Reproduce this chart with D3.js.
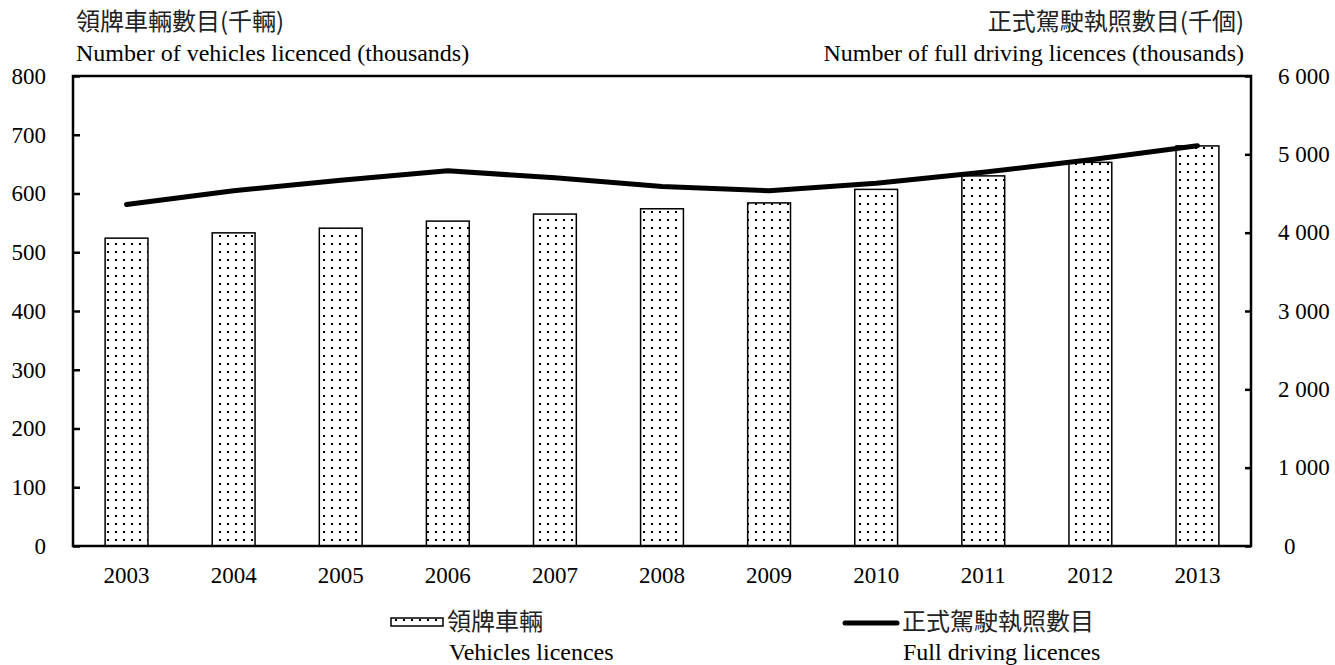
<!DOCTYPE html>
<html>
<head>
<meta charset="utf-8">
<script src="https://cdn.jsdelivr.net/npm/d3@7"></script>
<style>
  html, body { margin: 0; padding: 0; background: #fff; }
  svg { display: block; }
</style>
</head>
<body>
<svg id="chart" width="1335" height="665"></svg>
<script>
const years = ["2003","2004","2005","2006","2007","2008","2009","2010","2011","2012","2013"];
const vehicles = [524, 533, 541, 553, 565, 574, 584, 607, 630, 653, 681];
const licences = [4360, 4535, 4670, 4790, 4700, 4590, 4535, 4630, 4770, 4930, 5110];
const leftTicks = [0, 100, 200, 300, 400, 500, 600, 700, 800];
const rightTicks = [0, 1000, 2000, 3000, 4000, 5000, 6000];
const leftTitleZh = "領牌車輛數目(千輛)";
const leftTitleEn = "Number of vehicles licenced (thousands)";
const rightTitleZh = "正式駕駛執照數目(千個)";
const rightTitleEn = "Number of full driving licences (thousands)";
const legendZh = ["領牌車輛", "正式駕駛執照數目"];
const legendEn = ["Vehicles licences", "Full driving licences"];

const serif = "'Liberation Serif', 'Times New Roman', serif";
const cjk = "'Noto Sans CJK TC', 'Noto Sans CJK SC', sans-serif";

const svg = d3.select("#chart");
const L = 73, R = 1251, T = 76, B = 546;

const defs = svg.append("defs");
const pat = defs.append("pattern").attr("id", "dots").attr("patternUnits", "userSpaceOnUse")
  .attr("width", 8).attr("height", 8);
pat.append("rect").attr("width", 8).attr("height", 8).attr("fill", "#fff");
pat.append("rect").attr("x", 3).attr("y", 3).attr("width", 2).attr("height", 2).attr("fill", "#000");

const x = d3.scaleBand().domain(years).range([L, R]).paddingInner(0.6).paddingOuter(0.3);
const yL = d3.scaleLinear().domain([0, 800]).range([B, T]);
const yR = d3.scaleLinear().domain([0, 6000]).range([B, T]);

// bars
svg.append("g").selectAll("rect").data(vehicles).join("rect")
  .attr("x", (d, i) => x(years[i]))
  .attr("y", d => yL(d))
  .attr("width", x.bandwidth())
  .attr("height", d => B - yL(d))
  .attr("fill", "url(#dots)")
  .attr("stroke", "#000")
  .attr("stroke-width", 1.5);

// line
const line = d3.line().x((d, i) => x(years[i]) + x.bandwidth() / 2).y(d => yR(d));
svg.append("path").datum(licences).attr("d", line)
  .attr("fill", "none").attr("stroke", "#000").attr("stroke-width", 5)
  .attr("stroke-linecap", "round").attr("stroke-linejoin", "round");

// axes
const axL = svg.append("g").attr("transform", `translate(${L},0)`)
  .call(d3.axisRight(yL).tickValues(leftTicks).tickSize(7).tickFormat(""));
const axR = svg.append("g").attr("transform", `translate(${R},0)`)
  .call(d3.axisLeft(yR).tickValues(rightTicks).tickSize(6).tickFormat(""));
[axL, axR].forEach(a => {
  a.selectAll("line").attr("stroke", "#000").attr("stroke-width", 2.5);
  a.select(".domain").remove();
});

// frame
svg.append("rect").attr("x", L).attr("y", T).attr("width", R - L).attr("height", B - T)
  .attr("fill", "none").attr("stroke", "#000").attr("stroke-width", 2.5);

// tick labels
svg.append("g").selectAll("text").data(leftTicks).join("text")
  .attr("x", 46).attr("y", d => yL(d)).attr("dy", "0.34em")
  .attr("text-anchor", "end").attr("font-family", serif).attr("font-size", 23)
  .text(d => d);

const fmtR = d => d === 0 ? "0" : d3.format(",")(d).replace(",", " ");
svg.append("g").selectAll("text").data(rightTicks).join("text")
  .attr("x", d => d === 0 ? 1284 : 1278).attr("y", d => yR(d)).attr("dy", "0.34em")
  .attr("text-anchor", "start").attr("font-family", serif).attr("font-size", 23)
  .text(fmtR);

svg.append("g").selectAll("text").data(years).join("text")
  .attr("x", d => x(d) + x.bandwidth() / 2).attr("y", 583)
  .attr("text-anchor", "middle").attr("font-family", serif).attr("font-size", 23)
  .text(d => d);

// titles
svg.append("text").attr("x", 76).attr("y", 30).attr("font-family", cjk).attr("font-size", 24)
  .attr("fill", "#222").text(leftTitleZh);
svg.append("text").attr("x", 76).attr("y", 61).attr("font-family", serif).attr("font-size", 24)
  .text(leftTitleEn);
svg.append("text").attr("x", 1244).attr("y", 30).attr("text-anchor", "end").attr("font-family", cjk)
  .attr("font-size", 24).attr("fill", "#222").text(rightTitleZh);
svg.append("text").attr("x", 1244).attr("y", 61).attr("text-anchor", "end").attr("font-family", serif)
  .attr("font-size", 24).text(rightTitleEn);

// legend
svg.append("rect").attr("x", 391).attr("y", 618).attr("width", 52).attr("height", 8)
  .attr("fill", "url(#dots)").attr("stroke", "#000").attr("stroke-width", 1.5);
svg.append("text").attr("x", 447).attr("y", 630).attr("font-family", cjk).attr("font-size", 24)
  .attr("fill", "#222").text(legendZh[0]);
svg.append("text").attr("x", 449).attr("y", 660).attr("font-family", serif).attr("font-size", 24)
  .text(legendEn[0]);

svg.append("line").attr("x1", 845).attr("x2", 897).attr("y1", 623).attr("y2", 623)
  .attr("stroke", "#000").attr("stroke-width", 5).attr("stroke-linecap", "round");
svg.append("text").attr("x", 902).attr("y", 630).attr("font-family", cjk).attr("font-size", 24)
  .attr("fill", "#222").text(legendZh[1]);
svg.append("text").attr("x", 903).attr("y", 660).attr("font-family", serif).attr("font-size", 24)
  .text(legendEn[1]);
</script>
</body>
</html>
